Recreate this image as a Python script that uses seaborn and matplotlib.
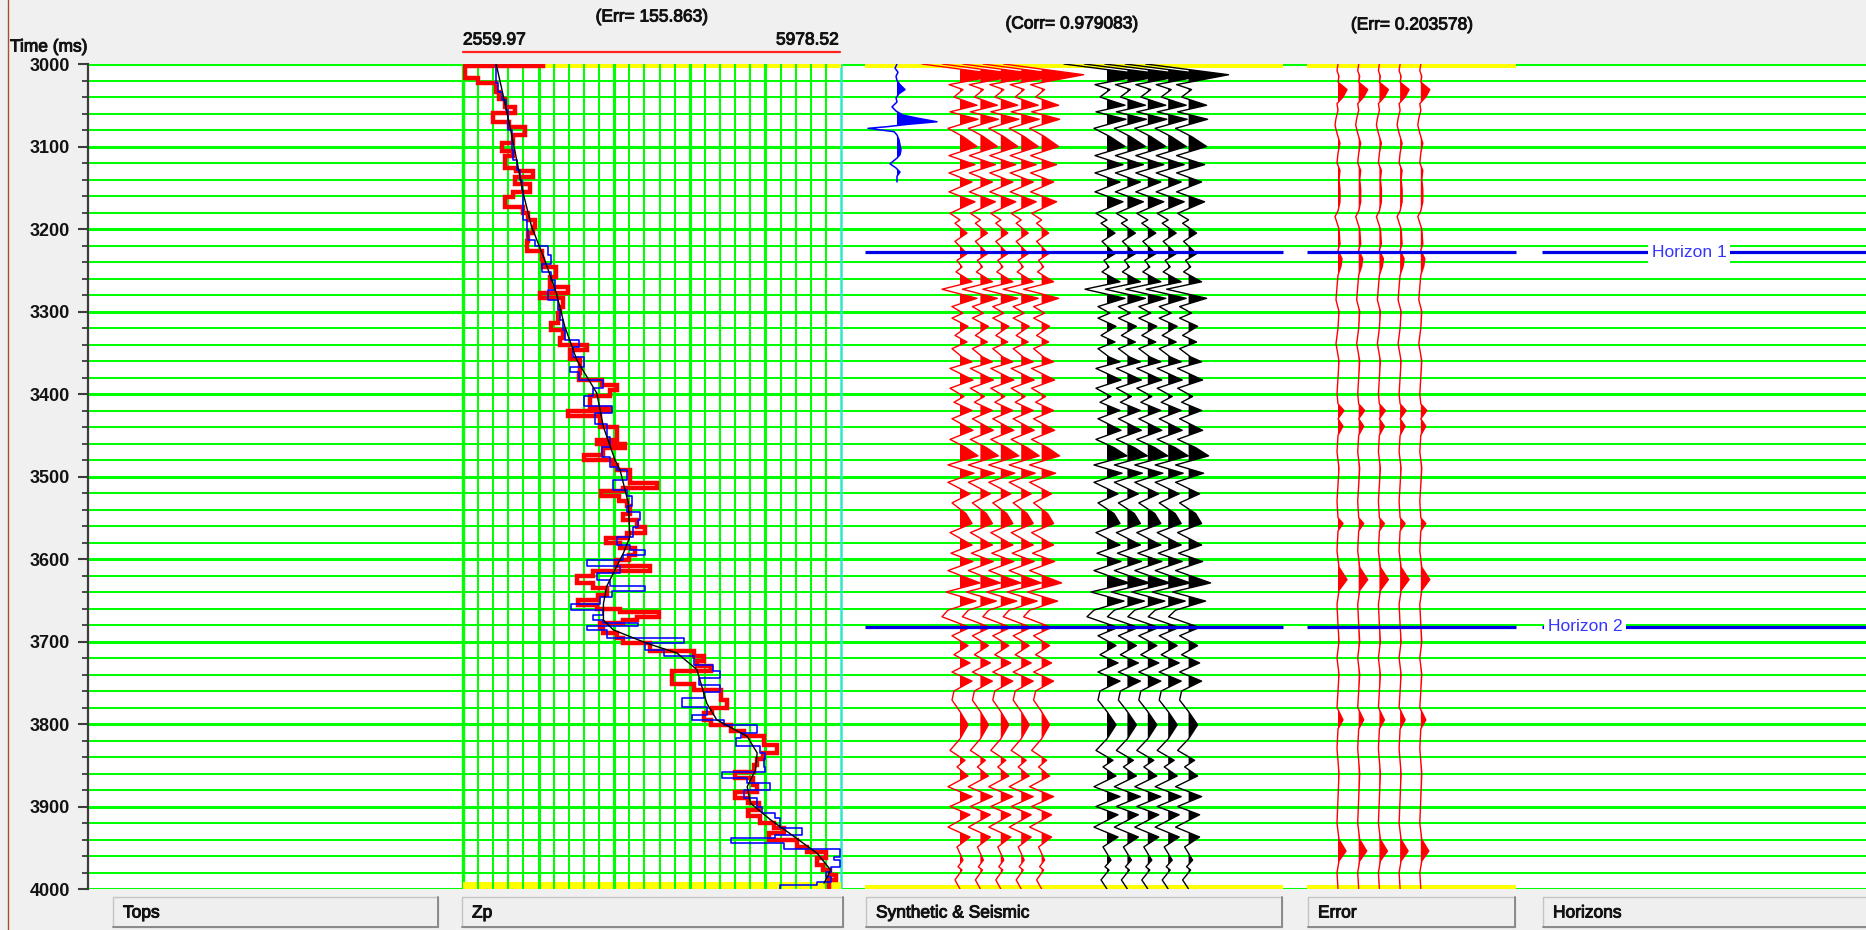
import numpy as np
import matplotlib
matplotlib.use("Agg")
import matplotlib.pyplot as plt
import matplotlib.patheffects as pe
from matplotlib.lines import Line2D
from matplotlib.patches import Rectangle
from matplotlib.ticker import MultipleLocator
import seaborn as sns

sns.set_theme(style="white")
plt.rcParams["font.family"] = ["Liberation Sans", "DejaVu Sans"]

# ---------------------------------------------------------------- data
t_start, t_end = 3000, 4000
time_ticks = [3000, 3100, 3200, 3300, 3400, 3500, 3600, 3700, 3800, 3900, 4000]

zp_min, zp_max = 2559.97, 5978.52
zp_err = "155.863"
syn_corr = "0.979083"
res_err = "0.203578"

# inverted P-impedance (blocky, value starts at the listed time)
zp_inv_t = [3000, 3003, 3017, 3023, 3034, 3042, 3052, 3059, 3070, 3076,
            3086, 3096, 3106, 3112, 3126, 3130, 3137, 3145, 3155, 3161,
            3173, 3181, 3189, 3197, 3205, 3215, 3227, 3236, 3246, 3258,
            3270, 3278, 3284, 3294, 3302, 3314, 3322, 3332, 3341, 3347,
            3357, 3375, 3383, 3389, 3395, 3403, 3417, 3421, 3427, 3440,
            3456, 3460, 3466, 3474, 3480, 3486, 3492,
            3508, 3514, 3518, 3524, 3530, 3536, 3545, 3553, 3561, 3569,
            3575, 3581, 3587, 3595, 3601, 3609, 3615, 3621, 3629, 3635,
            3644, 3650, 3656, 3660, 3664, 3670, 3674, 3678, 3684, 3690,
            3696, 3702, 3712, 3718, 3724, 3730, 3736, 3751, 3759, 3771,
            3781, 3787, 3795, 3801, 3809, 3815, 3825, 3835, 3843, 3850,
            3858, 3866, 3874, 3882, 3890, 3896, 3904, 3912, 3920, 3926,
            3932, 3940, 3949, 3955, 3963, 3971, 3977, 3983, 3989, 4000]
zp_inv = [3285, 2575, 2700, 2860, 2890, 2940, 3030, 2830, 2980, 3120,
          3010, 2910, 3010, 2940, 3040, 3195, 3030, 3165, 3010, 2940,
          3100, 3150, 3210, 3195, 3150, 3135, 3270, 3285, 3405, 3345,
          3510, 3255, 3465, 3435, 3420, 3360, 3465, 3435, 3680, 3525,
          3620, 3605, 3815, 3950, 3890, 3710, 3890, 3510, 3800, 3950,
          3770, 4025, 3830, 3650, 3920, 3950, 4070,
          4310, 4010, 3810, 3970, 4040, 4070, 4010, 4130, 4210, 4040,
          3850, 3980, 4120, 4060, 3940, 4250, 3740, 3590, 3740, 3860,
          3780, 3600, 3770, 3980, 4330, 4130, 4010, 3800, 3830, 3950,
          4010, 4250, 4650, 4740, 4680, 4800, 4450, 4650, 4890, 4950,
          4810, 4740, 4800, 4980, 5100, 5280, 5400, 5270, 5220, 5190,
          5020, 5180, 5220, 5020, 5140, 5240, 5140, 5250, 5370, 5460,
          5330, 5580, 5670, 5840, 5760, 5820, 5880, 5930, 5870, 5870]

# well-log P-impedance (blocky)
zp_log_t = [3000, 3011, 3023, 3034, 3044, 3056, 3080, 3104, 3116, 3128,
            3141, 3153, 3189, 3201, 3213, 3221, 3231, 3242, 3252, 3262,
            3274, 3286, 3298, 3310, 3322, 3335, 3343, 3355, 3367, 3373,
            3383, 3393, 3403, 3415, 3423, 3436, 3452, 3464, 3476, 3488,
            3492, 3504, 3516, 3524, 3536, 3543, 3553, 3561, 3573, 3583,
            3589, 3595, 3601, 3609, 3617, 3625, 3633, 3639, 3646, 3654,
            3662, 3668, 3674, 3677, 3681, 3686, 3696, 3702, 3710, 3718,
            3728, 3736, 3744, 3753, 3761, 3769, 3779, 3789, 3795, 3801,
            3811, 3817, 3827, 3835, 3843, 3852, 3858, 3866, 3872, 3880,
            3890, 3900, 3908, 3914, 3926, 3934, 3938, 3944, 3952, 3961,
            3965, 3973, 3979, 3985, 3991, 3995, 4000]
zp_log = [2860, 2860, 2880, 2910, 2950, 2970, 3000, 3015, 3045, 3075,
          3090, 3105, 3135, 3150, 3210, 3330, 3360, 3270, 3360, 3390,
          3330, 3420, 3435, 3465, 3480, 3605, 3555, 3650, 3525, 3605,
          3830, 3740, 3650, 3905, 3755, 3860, 3890, 3815, 3890, 3950,
          4040, 3920, 4040, 4085, 4040, 4160, 4145, 4100, 3950, 4070,
          4205, 4010, 3680, 3980, 3770, 3890, 4205, 3905, 3800, 3540,
          3830, 3740, 3830, 4145, 3680, 3860, 4555, 4205, 4375, 4645,
          4825, 4885, 4690, 4885, 4735, 4540, 4765, 4630, 4920, 5220,
          5070, 5025, 5250, 5295, 5280, 5295, 4900, 5130, 5340, 5100,
          5220, 5265, 5385, 5430, 5630, 5385, 4980, 5460, 5970, 5915,
          5970, 5885, 5840, 5885, 5765, 5430, 5430]

# low-frequency model
zp_trend_t = [3000, 3036, 3076, 3116, 3157, 3197, 3238, 3278, 3318, 3359,
              3399, 3440, 3480, 3492, 3532, 3573, 3593, 3613, 3633, 3654,
              3674, 3686, 3702, 3714, 3734, 3775, 3795, 3815, 3835, 3856,
              3876, 3896, 3916, 3936, 3957, 3977, 3993]
zp_trend = [2860, 2920, 2985, 3045, 3105, 3180, 3300, 3405, 3480, 3590,
            3770, 3830, 3935, 3980, 4055, 4070, 4010, 3935, 3860, 3830,
            3830, 3920, 4220, 4495, 4675, 4765, 4855, 5130, 5220, 5205,
            5130, 5160, 5340, 5550, 5765, 5885, 5825]

# extracted wavelet
wavelet_t = [3000, 3005, 3010, 3015, 3020, 3025, 3031, 3036, 3041, 3046,
             3052, 3057, 3062, 3066, 3070, 3073, 3076, 3078, 3082, 3086,
             3092, 3098, 3104, 3110, 3114, 3118, 3121, 3126, 3131, 3136, 3143]
wavelet_amp = [0, -2, 1, -1, 0, 3, 8, 2, -1, 0,
               -5, -1, 6, 22, 40, 12, -10, -29, -3, 0,
               2, 3, 4, 3, 0, -4, -7, -1, 3, 0, 0]

# synthetic and seismic trace extrema
syn_t = [3000, 3013, 3025, 3031, 3040, 3050, 3058, 3067, 3078, 3088,
         3100, 3111, 3122, 3132, 3143, 3155, 3167, 3181, 3189, 3193,
         3205, 3215, 3230, 3238, 3246, 3252, 3264, 3273, 3284, 3294,
         3302, 3308, 3318, 3329, 3337, 3345, 3355, 3361, 3369, 3383,
         3393, 3403, 3410, 3420, 3430, 3444, 3455, 3465, 3475, 3486,
         3496, 3507, 3521, 3532, 3545, 3557, 3568, 3583, 3593, 3603,
         3614, 3629, 3640, 3651, 3662, 3670, 3683, 3693, 3705, 3716,
         3726, 3737, 3748, 3760, 3771, 3785, 3801, 3818, 3832, 3844,
         3852, 3863, 3876, 3888, 3900, 3910, 3925, 3937, 3949, 3965,
         3973, 3977, 3989, 4000]
syn_amp = [-38, 42, -11, 3, -6, 17, -10, 18, -12, 3,
           17, -11, 15, -11, 12, -11, 15, -10, 0, -5,
           7, -5, 7, -3, 2, -4, 12, -18, 17, -8,
           3, -8, 8, -5, 7, -8, 2, 12, -10, 13,
           -10, 4, -6, 12, -8, 13, -10, 6, 18, -12,
           14, -12, 10, -8, 6, 12, -10, 12, -9, 13,
           -12, 20, -14, 16, -12, -18, 10, -8, 8, -6,
           10, -8, 12, -6, -8, 0, 8, 0, -10, 5,
           -3, 8, -12, 12, -10, 10, -12, 10, -3, 3,
           -2, 2, -5, 0]
seis_amp = [-43, 40, -12, 3, -7, 18, -11, 19, -13, 3,
            18, -12, 16, -12, 13, -12, 16, -11, 0, -6,
            8, -5, 8, -3, 2, -5, 13, -22, 18, -9,
            3, -9, 9, -6, 8, -9, 2, 13, -11, 14,
            -11, 4, -7, 13, -9, 14, -11, 7, 20, -13,
            15, -13, 11, -9, 7, 13, -11, 13, -10, 14,
            -13, 22, -16, 17, -13, -20, 11, -9, 9, -7,
            11, -9, 13, -7, -9, 0, 9, 0, -11, 6,
            -4, 9, -13, 13, -11, 11, -13, 11, -4, 4,
            -2, 2, -6, 0]

# residual (seismic - synthetic)
err_t = [3000, 3008, 3015, 3022, 3031, 3040, 3048, 3056, 3066, 3074,
         3084, 3096, 3108, 3120, 3129, 3140, 3152, 3167, 3178, 3185,
         3200, 3218, 3226, 3236, 3245, 3256, 3270, 3286, 3300, 3320,
         3339, 3360, 3380, 3400, 3412, 3420, 3430, 3439, 3450, 3470,
         3490, 3510, 3530, 3550, 3557, 3566, 3590, 3610, 3625, 3638,
         3655, 3680, 3700, 3720, 3740, 3760, 3780, 3795, 3806, 3830,
         3860, 3890, 3920, 3940, 3954, 3966, 3980, 4000]
err_amp = [0, -1, 1, 0, 9, 5, -1, 0, -2, -3,
           -1, 2, 0, -1, 2, 1, 2, 2, 0, -3,
           1, 2, 0, 4, 3, 0, -1, -2, 1, 0,
           -2, 1, 0, -1, 0, 6, 0, 5, 0, -1,
           1, 0, -1, 0, 5, 0, -1, 1, 9, 1,
           -1, 0, 1, -1, 1, 0, -1, 5, 0, -1,
           1, 0, -1, 1, 8, 1, -1, 0]

horizon_names = ["Horizon 1", "Horizon 2"]
horizon_times = [3228, 3682]

track_names = ["Tops", "Zp", "Synthetic & Seismic", "Error", "Horizons"]

# ---------------------------------------------------------------- layout
W, H, DPI = 1866, 930, 100
TOP, BOT = 64, 889
GREEN = "#00ff00"
YELLOW = "#ffff00"
TEXT = "#121212"
FS = 12.5
HEAVY = [pe.withStroke(linewidth=0.7, foreground=TEXT)]

tracks = {"Tops": (89, 463), "Zp": (463, 841), "Synthetic & Seismic": (865, 1283),
          "Error": (1307, 1516), "Horizons": (1542, W)}
buttons = {"Tops": (113, 438), "Zp": (462, 843), "Synthetic & Seismic": (866, 1282),
           "Error": (1308, 1515), "Horizons": (1543, W + 2)}
red_bases = [960, 980.4, 1000.8, 1021.2, 1041.6]
black_bases = [1107, 1127.4, 1147.8, 1168.2, 1188.6]
err_bases = [1338, 1358.7, 1379.4, 1400.1, 1420.8]
wavelet_base = 897
label_x = [1689, 1585]

fig = plt.figure(figsize=(W / DPI, H / DPI), dpi=DPI, facecolor="#f0f0f0")


def fx(x):
    return x / W


def fy(y):
    return 1 - y / H


def track_axes(x0, x1):
    return fig.add_axes([fx(x0), fy(BOT), (x1 - x0) / W, (BOT - TOP) / H])


# background track area with time grid and time axis
ax_bg = track_axes(88, W)
ax_bg.set_facecolor("white")
for t in range(t_start, t_end + 1, 20):
    major = t % 100 == 0
    ax_bg.axhline(t, color=GREEN, lw=2.2 if major else 1.45, zorder=1,
                  clip_on=t in (t_start, t_end))
ax_bg.axvline(463, color=GREEN, lw=2.4, zorder=2)
ax_bg.axvline(841, color="#30e8c8", lw=1.8, zorder=2)

# yellow window markers at the top and bottom of the analysis tracks
for (x0, x1), (b0, b1) in [((463, 841), (3991.5, t_end)),
                           ((865, 1283), (3995, t_end)),
                           ((1307, 1516), (3995, t_end))]:
    ax_bg.fill_between([x0, x1], t_start, t_start + 4.5, color=YELLOW, lw=0, zorder=3)
    ax_bg.fill_between([x0, x1], b0, b1, color=YELLOW, lw=0, zorder=3)

for side in ["top", "right", "bottom"]:
    ax_bg.spines[side].set_visible(False)
ax_bg.spines["left"].set_color("#3c3c3c")
ax_bg.spines["left"].set_linewidth(1.6)
ax_bg.set_xticks([])
ax_bg.set_yticks(time_ticks)
ax_bg.set_yticklabels([str(t) for t in time_ticks], fontsize=FS + 0.5,
                      fontweight="bold", color=TEXT)
ax_bg.yaxis.set_minor_locator(MultipleLocator(20))
ax_bg.tick_params(axis="y", which="major", left=True, direction="out",
                  length=7, width=1.5, color="#3c3c3c", pad=6)
ax_bg.tick_params(axis="y", which="minor", left=True, direction="out",
                  length=4.5, width=1.3, color="#3c3c3c")
ax_bg.set_xlim(88, W)
ax_bg.set_ylim(t_end, t_start)

# Zp track
ax_zp = track_axes(463, 841)
ax_zp.set_facecolor("none")
step = (zp_max - zp_min) / 25
for k in range(1, 25):
    ax_zp.axvline(zp_min + k * step, color=GREEN, lw=2.2 if k % 5 == 0 else 1.45, zorder=1)
sns.lineplot(x=zp_inv, y=zp_inv_t, orient="y", sort=False, estimator=None,
             color="#ff0000", lw=3.2, drawstyle="steps-pre",
             solid_joinstyle="miter", ax=ax_zp, zorder=3)
sns.lineplot(x=zp_log, y=zp_log_t, orient="y", sort=False, estimator=None,
             color="#0000ff", lw=1.15, drawstyle="steps-pre", ax=ax_zp, zorder=4)
sns.lineplot(x=zp_trend, y=zp_trend_t, orient="y", sort=False, estimator=None,
             color="#000000", lw=1.0, ax=ax_zp, zorder=5)
ax_zp.set_xlim(zp_min, zp_max)
ax_zp.set_ylim(t_end, t_start)
ax_zp.set_axis_off()


def wiggle(ax, base, t, amp, color, lw=1.0):
    t = np.asarray(t, float)
    x = base + np.asarray(amp, float)
    ax.fill_betweenx(t, base, x, where=x > base, interpolate=True,
                     color=color, lw=0, zorder=3)
    sns.lineplot(x=x, y=t, orient="y", sort=False, estimator=None,
                 color=color, lw=lw, ax=ax, zorder=4)


# synthetic & seismic track
ax_syn = track_axes(865, 1283)
ax_syn.set_facecolor("none")
wiggle(ax_syn, wavelet_base, wavelet_t, wavelet_amp, "#0000ff", lw=1.1)
for b in red_bases:
    wiggle(ax_syn, b, syn_t, syn_amp, "#ff0000")
for b in black_bases:
    wiggle(ax_syn, b, syn_t, seis_amp, "#000000")
ax_syn.set_xlim(865, 1283)
ax_syn.set_ylim(t_end, t_start)
ax_syn.set_axis_off()

# error track
ax_err = track_axes(1307, 1516)
ax_err.set_facecolor("none")
for b in err_bases:
    wiggle(ax_err, b, err_t, err_amp, "#ff0000")
ax_err.set_xlim(1307, 1516)
ax_err.set_ylim(t_end, t_start)
ax_err.set_axis_off()

# horizons drawn across the right-hand tracks
ax_top = track_axes(88, W)
ax_top.set_facecolor("none")
for name, t, lx in zip(horizon_names, horizon_times, label_x):
    for key in ["Synthetic & Seismic", "Error", "Horizons"]:
        x0, x1 = tracks[key]
        ax_top.plot([x0, x1], [t, t], color="#0000e6", lw=2.3,
                    solid_capstyle="butt", zorder=2)
    ax_top.text(lx, t, name, color="#3535ff", fontsize=FS, ha="center",
                va="center", zorder=5,
                bbox=dict(facecolor="white", edgecolor="none", pad=2.5))
ax_top.set_xlim(88, W)
ax_top.set_ylim(t_end, t_start)
ax_top.set_axis_off()

# headers
hdr = dict(fontsize=FS, color=TEXT, va="center", path_effects=HEAVY)
fig.text(fx(10), fy(47), "Time (ms)", ha="left", **hdr)
fig.text(fx(652), fy(17), f"(Err= {zp_err})", ha="center", **hdr)
fig.text(fx(463), fy(40), f"{zp_min:.2f}", ha="left", **hdr)
fig.text(fx(839), fy(40), f"{zp_max:.2f}", ha="right", **hdr)
fig.add_artist(Line2D([fx(463), fx(840)], [fy(52), fy(52)], color="#ff2020", lw=1.6))
fig.text(fx(1072), fy(24), f"(Corr= {syn_corr})", ha="center", **hdr)
fig.text(fx(1412), fy(25), f"(Err= {res_err})", ha="center", **hdr)

# track buttons along the bottom
for name in track_names:
    x0, x1 = buttons[name]
    fig.add_artist(Rectangle((fx(x0), fy(927)), (x1 - x0) / W, 30 / H,
                             transform=fig.transFigure, facecolor="#efefef",
                             edgecolor="#c4c4c4", lw=1.0))
    fig.add_artist(Line2D([fx(x0), fx(x1)], [fy(927), fy(927)], color="#8a8a8a", lw=1.4))
    fig.add_artist(Line2D([fx(x1), fx(x1)], [fy(927), fy(897)], color="#8a8a8a", lw=1.4))
    fig.text(fx(x0 + 10), fy(913), name, ha="left", **hdr)

fig.add_artist(Line2D([fx(8), fx(8)], [0, 1], color="#a0522d", lw=1.0))

fig.savefig("out.png", dpi=DPI, facecolor=fig.get_facecolor())
